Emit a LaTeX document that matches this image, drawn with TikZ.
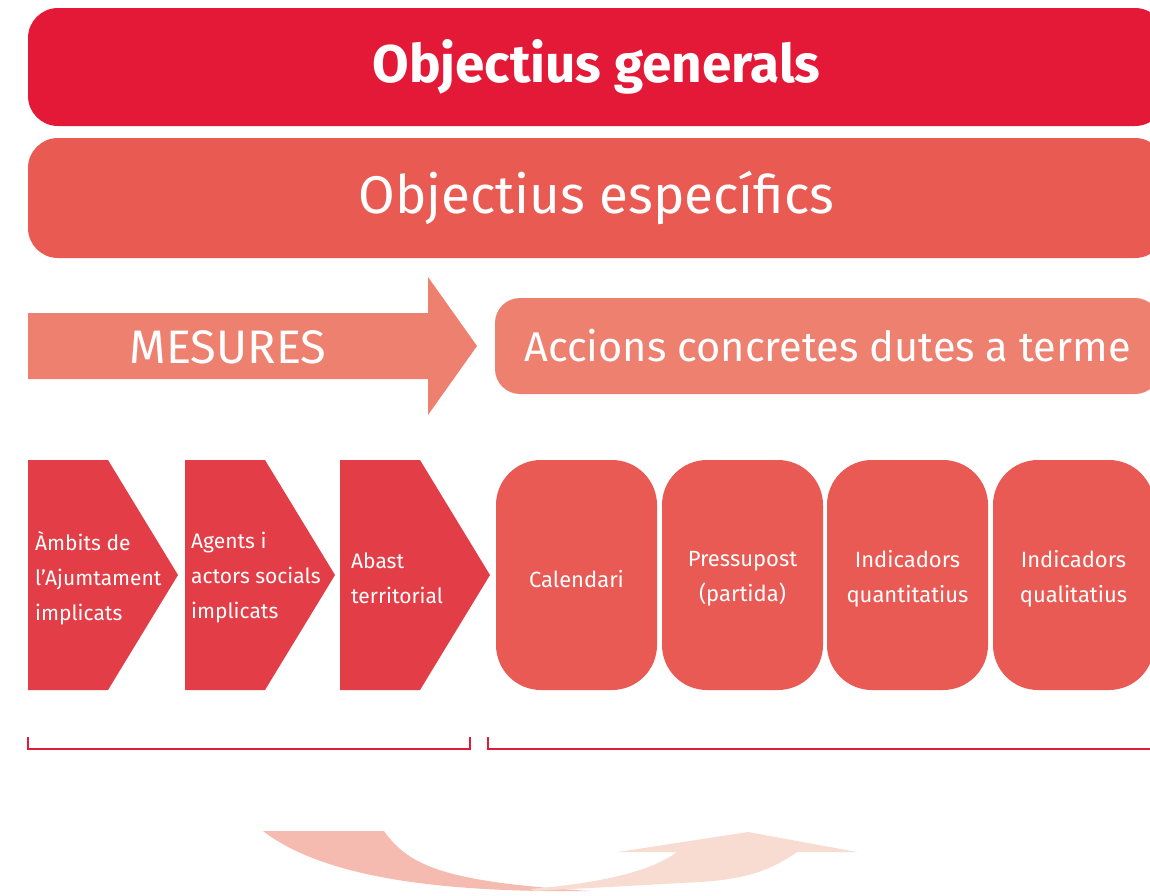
\documentclass[tikz,border=0pt]{standalone}
\usepackage{fontspec}
\setmainfont{Fira Sans}
\definecolor{vermell}{HTML}{E31937}
\definecolor{corall}{HTML}{E85A52}
\definecolor{salmo}{HTML}{EE8070}
\definecolor{granat}{HTML}{E33E47}
\definecolor{rosa}{HTML}{E85A53}
\definecolor{cintafosca}{HTML}{F6BBB0}
\definecolor{cintaclara}{HTML}{F8DBD1}
\tikzset{
	faixa/.style = {rectangle, rounded corners = 30pt, inner sep = 0pt, text = white},
	pastilla/.style = {rectangle, rounded corners = 45pt, minimum width = 161pt, minimum height = 230pt,
		inner sep = 0pt, fill = rosa},
	pastillatext/.style = {text = white, align = center, inner sep = 0pt, font = \fontsize{22}{35}\selectfont},
	galo/.style = {fill = granat},
	galotext/.style = {anchor = west, align = left, text = white, inner sep = 0pt, font = \fontsize{21}{35}\selectfont},
	clau/.style = {draw = vermell, line width = 2pt}
}

\begin{document}
\begin{tikzpicture}[x = 1pt, y = -1pt]
	\useasboundingbox (0,0) rectangle (1150,895);
	\clip (0,0) rectangle (1150,895);
	\node[faixa, fill = vermell, minimum width = 1137pt, minimum height = 118pt, font = \fontsize{53}{60}\selectfont\bfseries]
		(gen) at (596.5,67) {Objectius generals};
	\node[faixa, fill = corall, minimum width = 1137pt, minimum height = 120pt, font = \fontsize{53}{60}\selectfont]
		(esp) at (596.5,198) {Objectius específics};

	\fill[salmo] (28,313) -- (428,313) -- (428,277) -- (477,346) -- (428,415) -- (428,379) -- (28,379) -- cycle;
	\node[text = white, font = \fontsize{47}{54}\selectfont] (mes) at (228,347) {MESURES};
	\node[faixa, rounded corners = 25pt, fill = salmo, minimum width = 665pt, minimum height = 96pt,
		font = \fontsize{41.5}{48}\selectfont] (acc) at (827.5,346) {Accions concretes dutes a terme};

	\foreach \nom/\x/\tx/\txt in {amb/28/35/{Àmbits de\\l’Ajumtament\\implicats}, agt/185/191/{Agents i\\actors socials\\implicats}, abt/340/351/{Abast\\territorial}}{
		\fill[galo] (\x,460) -- ++(80,0) -- ++(70,115) -- ++(-70,115) -- ++(-80,0) -- cycle;
		\node[galotext] (\nom) at (\tx,578) {\txt};
	}

	\foreach \nom/\x/\txt in {cal/576.5/Calendari, pres/742.5/{Pressupost\\(partida)}, quant/907.5/{Indicadors\\quantitatius}, qual/1073.5/{Indicadors\\qualitatius}}{
		\node[pastilla] (\nom) at (\x,575) {};
		\node[pastillatext] (\nom-t) at (\x,579) {\txt};
	}

	\draw[clau] (28,737) |- (470,749) -- (470,737);
	\draw[clau] (488,737) |- (1160,749);

	\fill[cintafosca] (263,831) -- (384,831) .. controls (410,868) and (450,882) .. (590,891)
		.. controls (430,893) and (320,875) .. (263,831) -- cycle;
	\fill[cintaclara] (530,889) .. controls (600,883) and (650,872) .. (677,852) -- (618,852) -- (748,832)
		-- (857,852) -- (797,852) .. controls (770,871) and (745,879) .. (700,882) -- (535,891) -- cycle;
\end{tikzpicture}
\end{document}
